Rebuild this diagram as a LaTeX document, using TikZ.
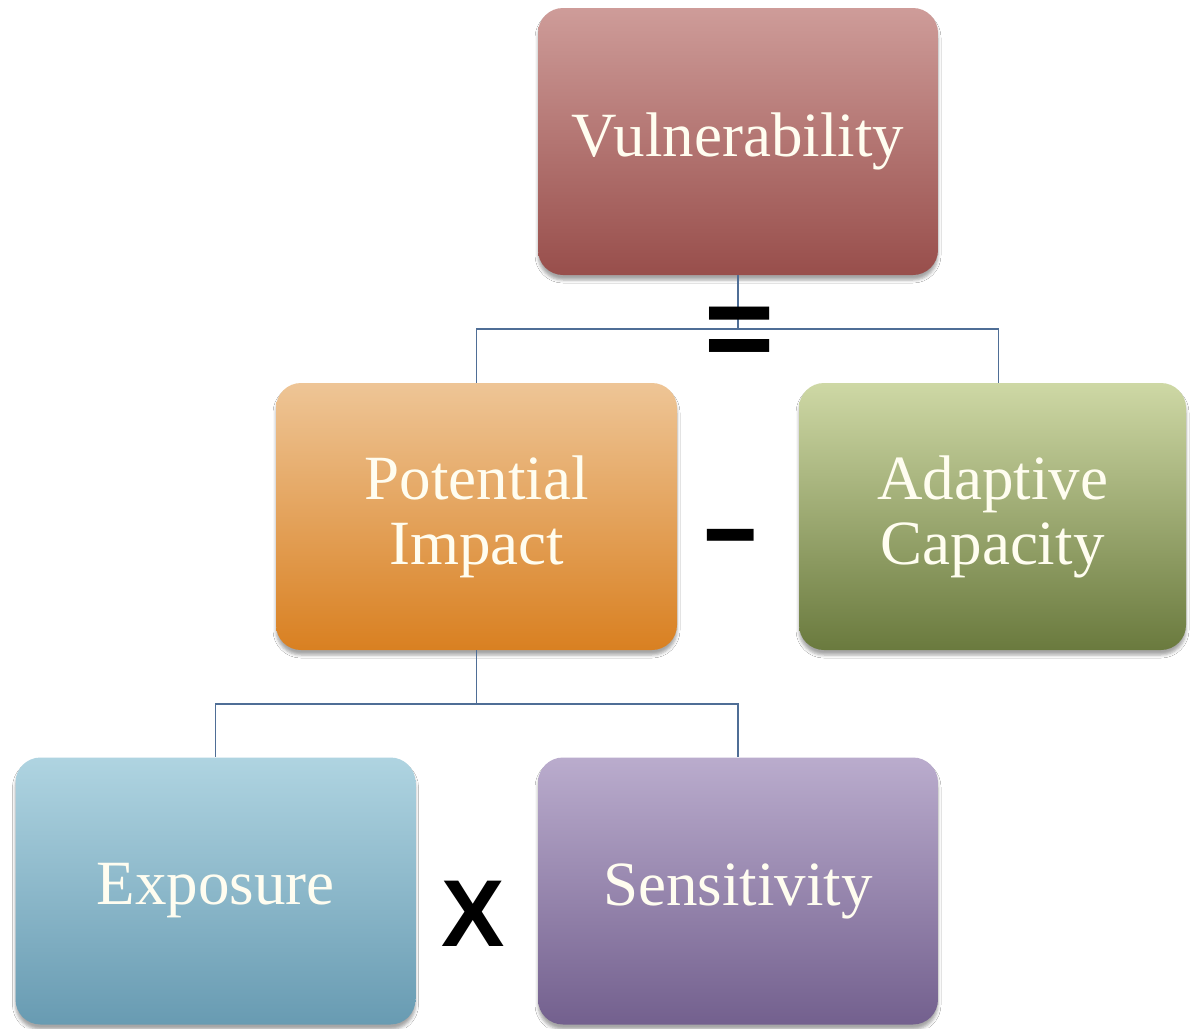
\documentclass[tikz,border=0pt]{standalone}
\usepackage{fontspec}
\setmainfont{Liberation Serif}
\newfontfamily\opfont{Liberation Sans}
\usetikzlibrary{shadows,shadows.blur}
\definecolor{txt}{RGB}{255,253,240}
\definecolor{conn}{RGB}{79,110,150}
\definecolor{vtop}{RGB}{206,156,153}
\definecolor{vbot}{RGB}{152,78,75}
\definecolor{ptop}{RGB}{238,197,150}
\definecolor{pbot}{RGB}{217,128,33}
\definecolor{atop}{RGB}{206,216,165}
\definecolor{abot}{RGB}{106,122,62}
\definecolor{etop}{RGB}{175,212,225}
\definecolor{ebot}{RGB}{104,155,178}
\definecolor{stop}{RGB}{186,172,205}
\definecolor{sbot}{RGB}{115,96,142}
\tikzset{
  box/.style={rectangle, rounded corners=25pt, minimum width=400pt, minimum height=267pt,
    draw=none, text=txt, align=center, font=\fontsize{63}{65}\selectfont,
    blur shadow={shadow xshift=0pt, shadow yshift=-5pt, shadow blur radius=3pt, shadow opacity=35}},
  link/.style={draw=conn, line width=1.5pt},
  op/.style={font=\opfont\bfseries, text=black, inner sep=0pt}
}
\begin{document}
\begin{tikzpicture}[x=1pt,y=1pt]
\path[use as bounding box, fill=white] (0,0) rectangle (1190,-1028);
\node[box, top color=vtop, bottom color=vbot] (V) at (738,-141.5) {Vulnerability};
\node[box, top color=ptop, bottom color=pbot, minimum width=401pt] (P) at (476.5,-516.5) {Potential\\Impact};
\node[box, top color=atop, bottom color=abot, minimum width=387pt] (A) at (992.5,-516.5) {Adaptive\\Capacity};
\node[box, top color=etop, bottom color=ebot] (E) at (215.5,-891) {Exposure};
\node[box, top color=stop, bottom color=sbot] (S) at (738,-891) {Sensitivity};
\coordinate (j1) at (738,-329);
\coordinate (j2) at (476.5,-704);
\draw[link] (V.south) -- (j1);
\draw[link] (j1) -| ([xshift=6pt]A.north);
\draw[link] (j1) -| (P.north);
\draw[link] (P.south) -- (j2);
\draw[link] (j2) -| (E.north);
\draw[link] (j2) -| (S.north);
\node[op, font=\opfont\bfseries\fontsize{120}{120}\selectfont] (eq) at (740,-338) {=};
\node[op, font=\opfont\bfseries\fontsize{80}{80}\selectfont] (minus) at (730.5,-548) {\scalebox{1.18}[1.5]{–}};
\node[op, font=\opfont\bfseries\fontsize{95}{95}\selectfont] (times) at (473,-914) {X};
\end{tikzpicture}
\end{document}
